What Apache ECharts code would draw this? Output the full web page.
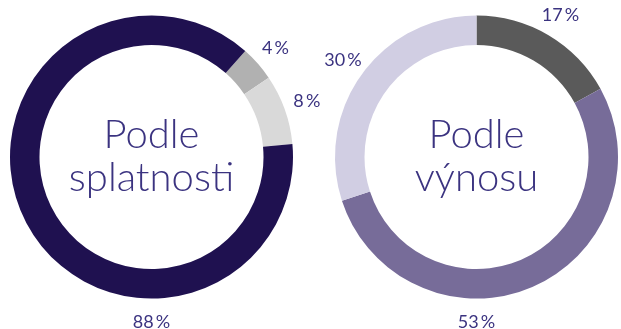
<!DOCTYPE html>
<html>
<head>
<meta charset="utf-8">
<script src="https://cdn.jsdelivr.net/npm/echarts@6/dist/echarts.min.js"></script>
<style>
  html, body { margin: 0; padding: 0; background: #ffffff; }
  #chart { width: 621px; height: 329px; }
</style>
</head>
<body>
<div id="chart"></div>
<script>
// Portfolio split by maturity (left ring) and by yield (right ring)
const maturityNames = ['A', 'B', 'C'];
const maturityValues = [4, 8, 88];
const maturityColors = ['#b1b1b1', '#d9d9d9', '#1f1150'];

const yieldNames = ['A', 'B', 'C'];
const yieldValues = [17, 53, 30];
const yieldColors = ['#5a5a5a', '#776c99', '#d1cee3'];

const centerTitles = ['Podle\nsplatnosti', 'Podle\nvýnosu'];

const FONT = 'Lato, "Open Sans", sans-serif';
const TEXT_COLOR = '#3b3380';
const OUTER_R = 141.5;
const INNER_R = 112;
const LABEL_R = 165;

const rings = [
  { names: maturityNames, values: maturityValues, colors: maturityColors, center: [151.5, 157], start: 48.5 },
  { names: yieldNames, values: yieldValues, colors: yieldColors, center: [476.5, 157], start: 90 }
];

// Label anchor for every slice: slices that cover the bottom of the ring get
// their label under the ring, the others sit outside their mid-angle.
function labelAnchors(ring) {
  const total = ring.values.reduce((a, b) => a + b, 0);
  let a0 = 90 - ring.start; // clockwise degrees from 12 o'clock
  return ring.values.map(v => {
    const a1 = a0 + v / total * 360;
    const coversBottom = (a0 <= 180 && a1 >= 180) || (a0 <= 540 && a1 >= 540);
    const mid = coversBottom ? 180 : (a0 + a1) / 2;
    a0 = a1;
    const rad = mid * Math.PI / 180;
    return [ring.center[0] + LABEL_R * Math.sin(rad), ring.center[1] - LABEL_R * Math.cos(rad)];
  });
}
const anchors = rings.map(labelAnchors);

const chart = echarts.init(document.getElementById('chart'), null, { renderer: 'canvas' });

chart.setOption({
  backgroundColor: '#ffffff',
  animation: false,
  series: rings.map((ring, si) => ({
    type: 'pie',
    center: ring.center,
    radius: [INNER_R, OUTER_R],
    startAngle: ring.start,
    clockwise: true,
    avoidLabelOverlap: false,
    silent: true,
    label: {
      show: true,
      position: 'outside',
      formatter: '{c}\u2009%',
      fontFamily: FONT,
      fontWeight: 400,
      fontSize: 18,
      color: TEXT_COLOR
    },
    labelLine: { show: false },
    labelLayout: params => ({
      x: anchors[si][params.dataIndex][0],
      y: anchors[si][params.dataIndex][1],
      align: 'center',
      verticalAlign: 'middle'
    }),
    itemStyle: { borderWidth: 0 },
    data: ring.values.map((v, i) => ({
      name: ring.names[i],
      value: v,
      itemStyle: { color: ring.colors[i] }
    }))
  })),
  graphic: rings.map((ring, si) => ({
    type: 'text',
    x: ring.center[0],
    y: ring.center[1],
    style: {
      text: centerTitles[si],
      align: 'center',
      verticalAlign: 'middle',
      fontFamily: FONT,
      fontWeight: 300,
      fontSize: 40,
      lineHeight: 43,
      fill: TEXT_COLOR
    }
  }))
});
</script>
</body>
</html>
